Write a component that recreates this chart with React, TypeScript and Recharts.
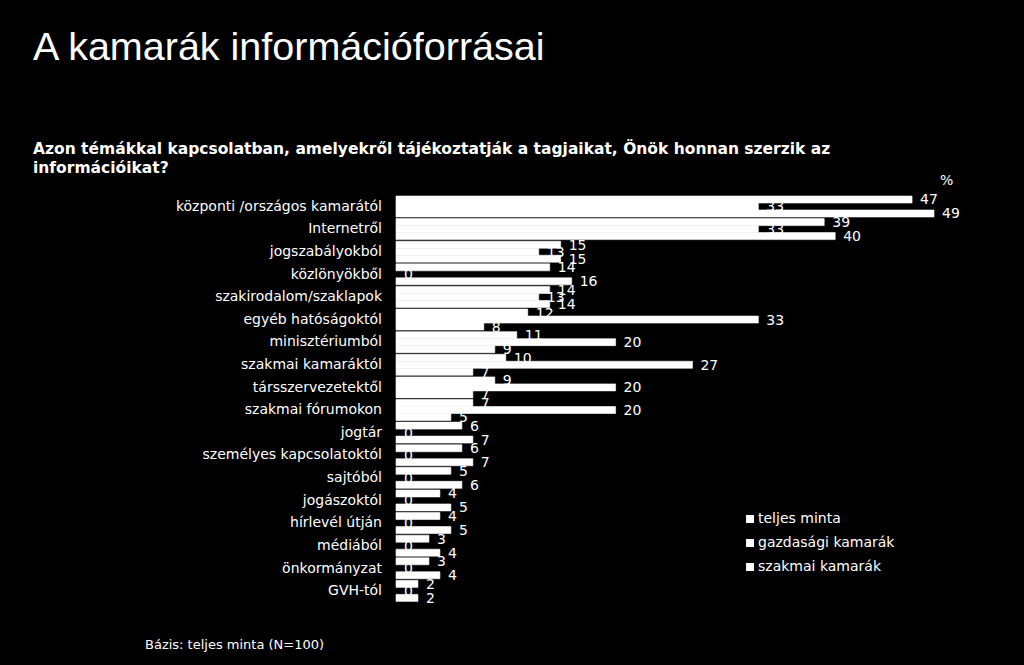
import React from 'react';
import { BarChart, Bar, XAxis, YAxis, LabelList, Legend } from 'recharts';

const categories = [
  'központi /országos kamarától',
  'Internetről',
  'jogszabályokból',
  'közlönyökből',
  'szakirodalom/szaklapok',
  'egyéb hatóságoktól',
  'minisztériumból',
  'szakmai kamaráktól',
  'társszervezetektől',
  'szakmai fórumokon',
  'jogtár',
  'személyes kapcsolatoktól',
  'sajtóból',
  'jogászoktól',
  'hírlevél útján',
  'médiából',
  'önkormányzat',
  'GVH-tól',
];

const teljesMinta = [47, 39, 15, 14, 14, 12, 11, 10, 9, 7, 6, 6, 5, 4, 4, 3, 3, 2];
const gazdasagiKamarak = [33, 33, 13, 0, 13, 33, 20, 27, 20, 20, 0, 0, 0, 0, 0, 0, 0, 0];
const szakmaiKamarak = [49, 40, 15, 16, 14, 8, 9, 7, 7, 5, 7, 7, 6, 5, 5, 4, 4, 2];

const seriesNames = ['teljes minta', 'gazdasági kamarák', 'szakmai kamarák'];

const data = categories.map((name, i) => ({
  name,
  teljes: teljesMinta[i],
  gazdasagi: gazdasagiKamarak[i],
  szakmai: szakmaiKamarak[i],
}));

const FONT = '"DejaVu Sans", Verdana, sans-serif';
const W = 1024;
const H = 665;
const margin = { top: 194.5, right: 79, bottom: 63.5, left: 0 };
const keys = ['teljes', 'gazdasagi', 'szakmai'];

// labels sit under the bars in the reference, so they get their own chart underneath
const LabelLayer = () => (
  <BarChart
    width={W}
    height={H}
    data={data}
    layout="vertical"
    margin={margin}
    barCategoryGap={1.5}
    barGap={0}
  >
    <XAxis type="number" domain={[0, 50]} hide />
    <YAxis
      type="category"
      dataKey="name"
      width={396}
      interval={0}
      tickLine={false}
      axisLine={false}
      tickSize={0}
      tickMargin={14}
      tick={{ fill: '#fff', fontSize: 14, fontFamily: FONT }}
    />
    {keys.map((k) => (
      <Bar key={k} dataKey={k} fill="transparent" minPointSize={0.01} isAnimationActive={false}>
        <LabelList
          dataKey={k}
          position="right"
          offset={8}
          fill="#fff"
          fontSize={14}
          fontFamily={FONT}
        />
      </Bar>
    ))}
  </BarChart>
);

const BarLayer = () => (
  <BarChart
    width={W}
    height={H}
    data={data}
    layout="vertical"
    margin={margin}
    barCategoryGap={1.5}
    barGap={0}
  >
    <XAxis type="number" domain={[0, 50]} hide />
    <YAxis type="category" dataKey="name" width={396} tick={false} tickLine={false} axisLine={false} />
    <Legend
      layout="vertical"
      align="center"
      verticalAlign="middle"
      iconType="square"
      iconSize={8}
      itemSorter={(item: any) => seriesNames.indexOf(item.value)}
      wrapperStyle={{
        left: 746,
        top: 506,
        width: 200,
        fontSize: 14,
        lineHeight: '24px',
        fontFamily: FONT,
      }}
    />
    {keys.map((k, i) => (
      <Bar
        key={k}
        dataKey={k}
        name={seriesNames[i]}
        fill="#fff"
        stroke="#fff"
        strokeWidth={0.6}
        isAnimationActive={false}
      />
    ))}
  </BarChart>
);

export default function App() {
  return (
    <div style={{ position: 'relative', width: W, height: H, background: '#000', color: '#fff', overflow: 'hidden' }}>
      <style>{'body{margin:0;background:#000}'}</style>
      <div
        style={{
          position: 'absolute',
          left: 33,
          top: 25,
          fontFamily: '"Liberation Sans", Arial, sans-serif',
          fontSize: 39.5,
          lineHeight: '42px',
          whiteSpace: 'nowrap',
        }}
      >
        A kamarák információforrásai
      </div>
      <div
        style={{
          position: 'absolute',
          left: 33,
          top: 140,
          fontFamily: FONT,
          fontWeight: 'bold',
          fontSize: 15.5,
          lineHeight: '19px',
          whiteSpace: 'nowrap',
        }}
      >
        Azon témákkal kapcsolatban, amelyekről tájékoztatják a tagjaikat, Önök honnan szerzik az
        <br />
        információikat?
      </div>
      <div style={{ position: 'absolute', left: 940, top: 172, fontFamily: FONT, fontSize: 14 }}>%</div>
      <div style={{ position: 'absolute', left: 0, top: 0 }}>
        <LabelLayer />
      </div>
      <div style={{ position: 'absolute', left: 0, top: 0 }}>
        <BarLayer />
      </div>
      <div style={{ position: 'absolute', left: 145, top: 637, fontFamily: FONT, fontSize: 13 }}>
        Bázis: teljes minta (N=100)
      </div>
    </div>
  );
}
